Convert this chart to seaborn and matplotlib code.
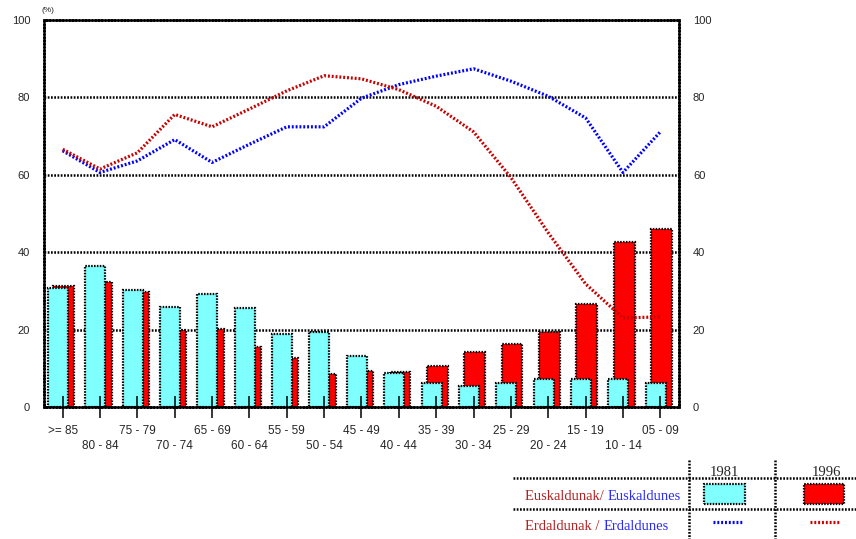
import matplotlib
matplotlib.use("Agg")
import numpy as np
import matplotlib.pyplot as plt
import seaborn as sns
from matplotlib.lines import Line2D
from matplotlib.patches import Rectangle

# Grupos de edad (de mayor a menor)
grupos = [">= 85", "80 - 84", "75 - 79", "70 - 74", "65 - 69", "60 - 64",
          "55 - 59", "50 - 54", "45 - 49", "40 - 44", "35 - 39", "30 - 34",
          "25 - 29", "20 - 24", "15 - 19", "10 - 14", "05 - 09"]

# Euskaldunak (barras), en %
eusk_1981 = [30.7, 36.5, 30.2, 25.9, 29.2, 25.5, 18.8, 19.3, 13.1, 8.8,
             6.3, 5.3, 6.3, 7.3, 7.3, 7.3, 6.3]
eusk_1996 = [31.3, 32.2, 29.7, 19.9, 20.2, 15.6, 12.6, 8.4, 9.4, 9.0,
             10.6, 14.1, 16.2, 19.3, 26.5, 42.6, 46.1]

# Erdaldunak (lineas), en %
erd_1981 = [66.2, 60.6, 63.6, 69.1, 63.2, 67.9, 72.4, 72.4, 79.8, 83.3,
            85.5, 87.4, 84.2, 80.3, 74.7, 60.6, 71.1]
erd_1996 = [66.6, 61.5, 65.7, 75.6, 72.4, 77.0, 81.7, 85.6, 84.8, 82.0,
            77.7, 71.1, 59.3, 45.0, 31.8, 23.0, 23.3]

cian = "#80FFFF"
rojo = "#FF0000"
linea_azul = "#0000FF"
linea_roja = "#C80000"
punteado = (0, (0.7, 0.6))      # lineas negras de la rejilla y bordes
puntos = (0, (0.6, 0.6))        # lineas de color

sns.set_style("white")
plt.rcParams["font.family"] = ["Liberation Sans", "DejaVu Sans"]

fig = plt.figure(figsize=(8.56, 5.39), dpi=100)
W, H = 856, 539
ax = fig.add_axes([44 / W, 1 - 407 / H, (679 - 44) / W, (407 - 20) / H])


def px(x, y):
    return x / W, 1 - y / H


pos = np.arange(len(grupos))

# Rejilla horizontal por debajo de las barras
for v in range(20, 100, 20):
    ax.axhline(v, color="black", linestyle=punteado, linewidth=1.8, zorder=1)

# Barras: 1996 detras, 1981 delante
sns.barplot(x=pos + 0.03, y=eusk_1996, native_scale=True, width=0.56,
            color=rojo, saturation=1, edgecolor="black", linewidth=1.6,
            linestyle=punteado, errorbar=None, ax=ax, zorder=1.5)
sns.barplot(x=pos - 0.125, y=eusk_1981, native_scale=True, width=0.535,
            color=cian, saturation=1, edgecolor="black", linewidth=1.6,
            linestyle=punteado, errorbar=None, ax=ax, zorder=1.6)

# Lineas punteadas
sns.lineplot(x=pos, y=erd_1981, color=linea_azul, linewidth=2.3,
             linestyle=puntos, ax=ax, zorder=5)
sns.lineplot(x=pos, y=erd_1996, color=linea_roja, linewidth=2.3,
             linestyle=puntos, ax=ax, zorder=5)

ax.set_xlim(-0.5, 16.5)
ax.set_ylim(0, 100)
ax.set_yticks(range(0, 101, 20))
ax.grid(False)
ax.set_axisbelow(False)
for s in ax.spines.values():
    s.set_visible(True)
    s.set_color("black")
    s.set_linewidth(1.8)
    s.set_linestyle(punteado)

etiquetas = [g if i % 2 == 0 else "\n" + g for i, g in enumerate(grupos)]
ax.set_xticks(pos)
ax.set_xticklabels(etiquetas, fontsize=8.5, linespacing=1.3)
ax.tick_params(axis="x", bottom=True, direction="inout", length=16,
               width=1.1, color="black", pad=5)
ax.tick_params(axis="y", length=0, pad=10, labelsize=8)
ax.set_xlabel("")
ax.set_ylabel("")

ax2 = ax.twinx()
ax2.set_ylim(0, 100)
ax2.set_yticks(range(0, 101, 20))
ax2.tick_params(axis="y", length=0, pad=10, labelsize=8)
for s in ax2.spines.values():
    s.set_visible(False)

fig.text(*px(41, 11), "(%)", fontsize=6, va="center", ha="left")

# Leyenda en forma de tabla
for yy in (478, 509):
    fig.add_artist(Line2D([513 / W, 1], [1 - yy / H] * 2, color="black",
                          linewidth=1.8, linestyle=punteado))
for xx in (689, 775):
    fig.add_artist(Line2D([xx / W] * 2, [1 - 460 / H, 0], color="black",
                          linewidth=1.8, linestyle=punteado))

serif = ["Liberation Serif", "DejaVu Serif"]
fig.text(*px(724, 473), "1981", family=serif, fontsize=10.5, ha="center", va="center")
fig.text(*px(826, 473), "1996", family=serif, fontsize=10.5, ha="center", va="center")

t1 = fig.text(*px(525, 497), "Euskaldunak/ ", family=serif, fontsize=10.5,
              color="#B22222", ha="left", va="center")
fig.canvas.draw()
bb = t1.get_window_extent()
fig.text(bb.x1 / W, 1 - 497 / H, "Euskaldunes", family=serif, fontsize=10.5,
         color="#2B2BFF", ha="left", va="center")
t2 = fig.text(*px(525, 527), "Erdaldunak / ", family=serif, fontsize=10.5,
              color="#B22222", ha="left", va="center")
fig.canvas.draw()
bb = t2.get_window_extent()
fig.text(bb.x1 / W, 1 - 527 / H, "Erdaldunes", family=serif, fontsize=10.5,
         color="#2B2BFF", ha="left", va="center")

fig.add_artist(Rectangle(px(704, 504), 41 / W, 20 / H, facecolor=cian,
                         edgecolor="black", linewidth=1.6, linestyle=punteado))
fig.add_artist(Rectangle(px(804, 504), 40 / W, 20 / H, facecolor=rojo,
                         edgecolor="black", linewidth=1.6, linestyle=punteado))
fig.add_artist(Line2D([713 / W, 743 / W], [1 - 522 / H] * 2, color=linea_azul,
                      linewidth=2.3, linestyle=puntos))
fig.add_artist(Line2D([810 / W, 840 / W], [1 - 522 / H] * 2, color=linea_roja,
                      linewidth=2.3, linestyle=puntos))

fig.savefig("out.png", dpi=100)
